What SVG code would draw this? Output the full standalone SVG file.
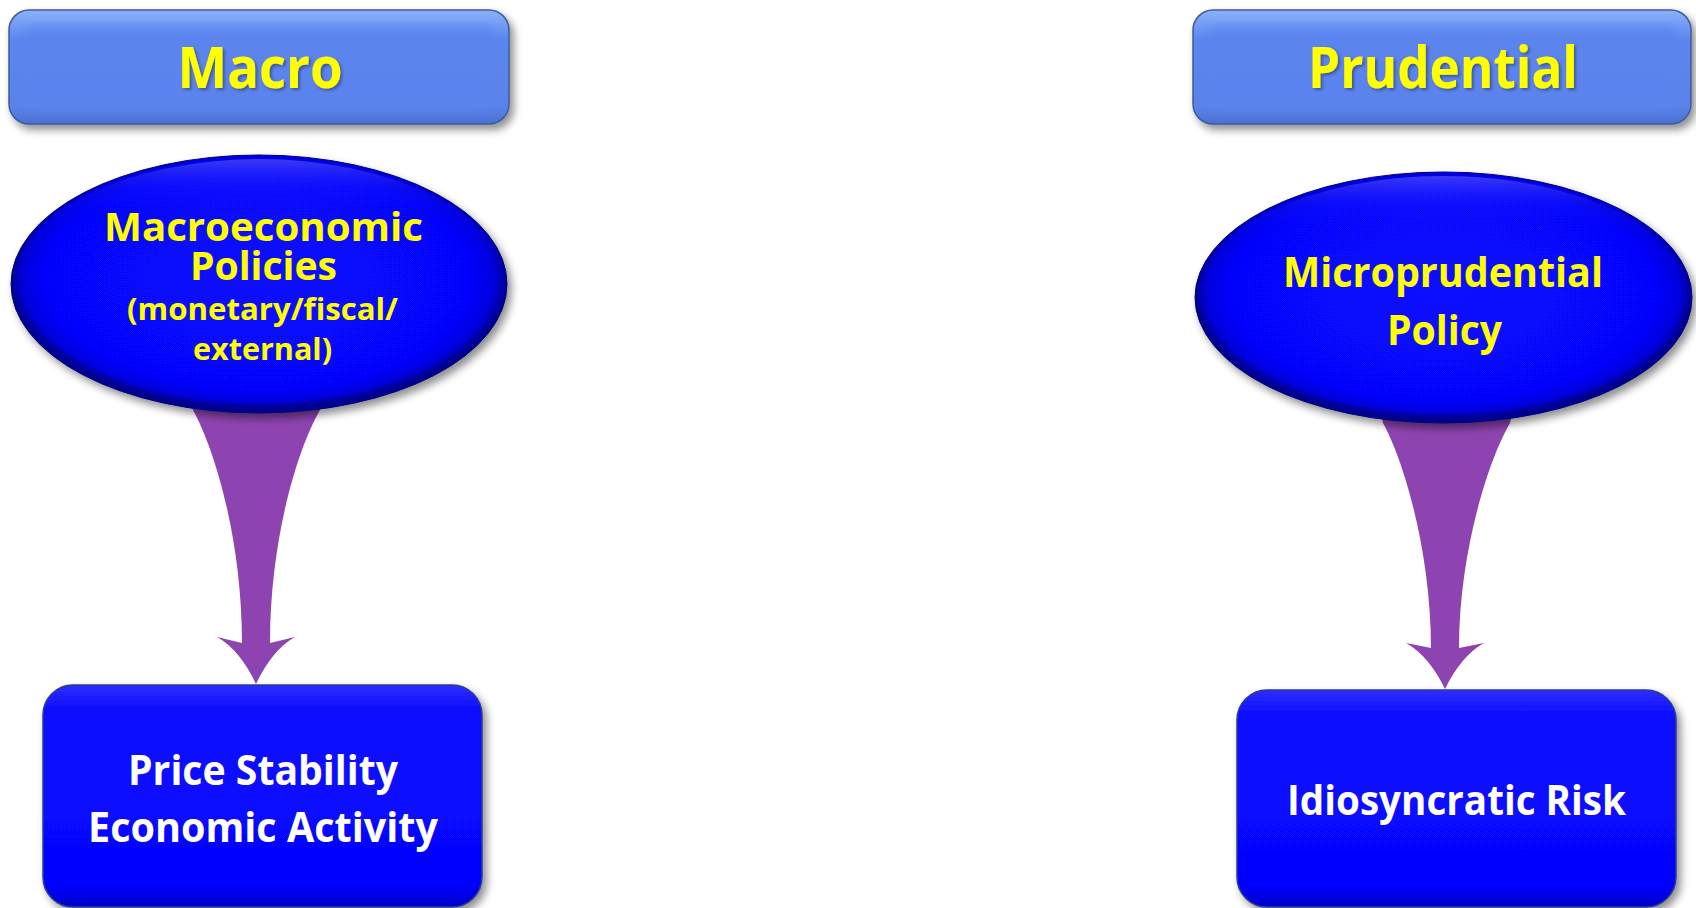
<svg xmlns="http://www.w3.org/2000/svg" width="1696" height="908" viewBox="0 0 1696 908">
  <style>
    text { font-family: "Open Sans", Lato, "Liberation Sans", sans-serif; font-weight: 700; text-anchor: middle; font-variant-ligatures: none; }
    .hdr-text { fill: #FFFF00; }
    .ell-text { fill: #FFFF00; }
    .box-text { fill: #FFFFFF; }
    .arrow { fill: #8E44B0; }
  </style>
  <defs>
    <filter id="shadow" x="-10%" y="-10%" width="125%" height="130%">
      <feGaussianBlur in="SourceAlpha" stdDeviation="4"/>
      <feOffset dx="4" dy="5" result="b"/>
      <feComponentTransfer><feFuncA type="linear" slope="0.45"/></feComponentTransfer>
      <feMerge><feMergeNode/><feMergeNode in="SourceGraphic"/></feMerge>
    </filter>
    <filter id="txtshadow" x="-10%" y="-20%" width="120%" height="150%">
      <feGaussianBlur in="SourceAlpha" stdDeviation="1.5"/>
      <feOffset dx="2" dy="2"/>
      <feComponentTransfer><feFuncA type="linear" slope="0.35"/></feComponentTransfer>
      <feMerge><feMergeNode/><feMergeNode in="SourceGraphic"/></feMerge>
    </filter>
    <filter id="soft" x="-5%" y="-5%" width="110%" height="110%">
      <feGaussianBlur stdDeviation="5"/>
    </filter>
    <linearGradient id="hdrFill" x1="0" y1="0" x2="0" y2="1">
      <stop offset="0" stop-color="#8DB1F9"/>
      <stop offset="0.14" stop-color="#7099F3"/>
      <stop offset="0.26" stop-color="#5C85EE"/>
      <stop offset="0.85" stop-color="#5A82EA"/>
      <stop offset="1" stop-color="#4C6FD2"/>
    </linearGradient>
    <radialGradient id="ellFill" cx="0.5" cy="0.48" r="0.5">
      <stop offset="0" stop-color="#0808FF"/>
      <stop offset="0.86" stop-color="#0606FC"/>
      <stop offset="0.95" stop-color="#0303DE"/>
      <stop offset="1" stop-color="#000090"/>
    </radialGradient>
    <linearGradient id="ellGloss" x1="0" y1="0" x2="0" y2="1">
      <stop offset="0" stop-color="#6A6AFF" stop-opacity="0.55"/>
      <stop offset="0.12" stop-color="#3030FF" stop-opacity="0.2"/>
      <stop offset="0.3" stop-color="#0000FF" stop-opacity="0"/>
    </linearGradient>
    <linearGradient id="boxFill" x1="0" y1="0" x2="0" y2="1">
      <stop offset="0" stop-color="#2E2EFF"/>
      <stop offset="0.12" stop-color="#0A0AFF"/>
      <stop offset="0.9" stop-color="#0505FF"/>
      <stop offset="1" stop-color="#0000C8"/>
    </linearGradient>
  </defs>

  <!-- connectors: tapered curved arrows -->
  <g id="connectors">
    <path class="arrow" d="M190,398 L193,410 C215,450 242,540 242,643 L217,637 Q240,650 256,684 Q272,650 295,637 L270,643 C270,540 297,450 320,410 L323,398 Z"/>
    <path class="arrow" d="M1380,410 L1383,423 C1405,463 1431,555 1431,648 L1406,643 Q1429,656 1445,689 Q1461,656 1484,643 L1459,648 C1459,555 1487,463 1510,423 L1513,410 Z"/>
  </g>

  <!-- header: Macro -->
  <g id="hdr-macro">
    <rect x="9" y="10" width="500" height="114" rx="20" fill="url(#hdrFill)" stroke="#3D5C9C" stroke-width="1.5" filter="url(#shadow)"/>
    <rect x="24" y="26" width="470" height="84" rx="10" fill="#5B84EE" opacity="0.7" filter="url(#soft)"/>
    <text class="hdr-text" x="260" y="88" font-size="57" textLength="165" lengthAdjust="spacingAndGlyphs" filter="url(#txtshadow)">Macro</text>
  </g>

  <!-- header: Prudential -->
  <g id="hdr-prudential">
    <rect x="1193" y="10" width="498" height="114" rx="20" fill="url(#hdrFill)" stroke="#3D5C9C" stroke-width="1.5" filter="url(#shadow)"/>
    <rect x="1208" y="26" width="468" height="84" rx="10" fill="#5B84EE" opacity="0.7" filter="url(#soft)"/>
    <text class="hdr-text" x="1443" y="88" font-size="57" textLength="270" lengthAdjust="spacingAndGlyphs" filter="url(#txtshadow)">Prudential</text>
  </g>

  <!-- ellipse: macroeconomic policies -->
  <g id="ell-macro">
    <ellipse cx="259" cy="284" rx="248" ry="129" fill="url(#ellFill)" stroke="#00007A" stroke-width="1" filter="url(#shadow)"/>
    <ellipse cx="259" cy="284" rx="244" ry="125" fill="url(#ellGloss)"/>
    <text class="ell-text" x="263.5" y="241" font-size="40" textLength="319" lengthAdjust="spacingAndGlyphs">Macroeconomic</text>
    <text class="ell-text" x="263.5" y="280" font-size="40" textLength="147" lengthAdjust="spacingAndGlyphs">Policies</text>
    <text class="ell-text" x="262.5" y="320" font-size="30" textLength="271" lengthAdjust="spacingAndGlyphs">(monetary/fiscal/</text>
    <text class="ell-text" x="262.5" y="360" font-size="30" textLength="139" lengthAdjust="spacingAndGlyphs">external)</text>
  </g>

  <!-- ellipse: microprudential policy -->
  <g id="ell-micro">
    <ellipse cx="1443.5" cy="297.5" rx="248.5" ry="125.5" fill="url(#ellFill)" stroke="#00007A" stroke-width="1" filter="url(#shadow)"/>
    <ellipse cx="1443.5" cy="297.5" rx="244.5" ry="121.5" fill="url(#ellGloss)"/>
    <text class="ell-text" x="1443" y="287" font-size="42" textLength="320" lengthAdjust="spacingAndGlyphs">Microprudential</text>
    <text class="ell-text" x="1444.5" y="345" font-size="42" textLength="115" lengthAdjust="spacingAndGlyphs">Policy</text>
  </g>

  <!-- box: price stability / economic activity -->
  <g id="box-price">
    <rect x="43" y="685" width="439" height="222" rx="30" fill="url(#boxFill)" stroke="#2B3C8E" stroke-width="1.5" filter="url(#shadow)"/>
    <text class="box-text" x="263" y="785" font-size="42" textLength="270" lengthAdjust="spacingAndGlyphs">Price Stability</text>
    <text class="box-text" x="263" y="842" font-size="42" textLength="350" lengthAdjust="spacingAndGlyphs">Economic Activity</text>
  </g>

  <!-- box: idiosyncratic risk -->
  <g id="box-risk">
    <rect x="1237" y="690" width="439" height="217" rx="30" fill="url(#boxFill)" stroke="#2B3C8E" stroke-width="1.5" filter="url(#shadow)"/>
    <text class="box-text" x="1456.5" y="815" font-size="42" textLength="339" lengthAdjust="spacingAndGlyphs">Idiosyncratic Risk</text>
  </g>
</svg>
